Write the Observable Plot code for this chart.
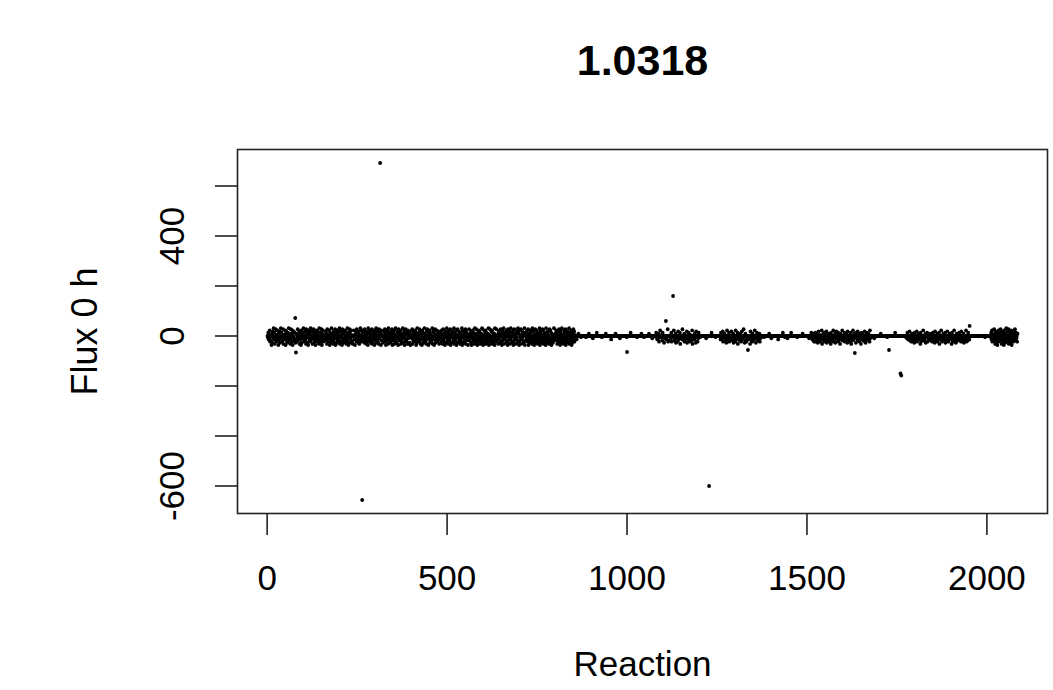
<!DOCTYPE html>
<html>
<head>
<meta charset="utf-8">
<script src="https://cdn.jsdelivr.net/npm/d3@7"></script>
<script src="https://cdn.jsdelivr.net/npm/@observablehq/plot@0.6"></script>
<style>
  html, body { margin: 0; padding: 0; background: #fff; }
  #chart svg { display: block; }
</style>
</head>
<body>
<div id="chart"></div>
<script>
// ---- data ----
const chartTitle = "1.0318";
const xLabel = "Reaction";
const yLabel = "Flux 0 h";

const xTicks = [0, 500, 1000, 1500, 2000];
const xTickLabels = ["0", "500", "1000", "1500", "2000"];
const yTicks = [-600, -400, -200, 0, 200, 400, 600];
const yTickLabels = ["-600", "", "", "0", "", "400", ""];

// Flux per reaction, hand-estimated band values; each row = 80 reactions.
// code: "0" = 0, "1".."9" = +4.5..+40.5, "a".."i" = -4.5..-40.5
const bandRows = [
  "0a3c0b5e1d0h2f4a07c3g0b6e1d5a0h2c4f0b7a3e0d6g1c0a5h2b4e0f3d7a1c0g6b2e5h0a4d3c1f",
  "2e0b6d1a4g0c3h5f0a2b7e0d4c1g6a0f3h5b2d0e7c4a1g0b6f3d0h2a5e1c4b0g7d3f0a6h2c5e1b",
  "0d4a2g6c0e1b5h3f0c7a2d0g4e1b6h0a3f5c2d0b7g4e1a0h6c3f2b5d0a4g1e7c0h3b6f2a5d1e0g",
  "5c1h0a3e6b2d0f4g1a7c0e5h3b2d0f6a4c1g0e3h7b5d2a0f4c6g1e0b3h5a2d7f0c4e1g6b0a3h5d",
  "1f0c4a6e2h0b5d3g7a1c0f4e2b6h0d3a5g1c7e0f2b4h6a0d3c5g1e0b7f2a4h0d6c3e1g5b0a2f4h",
  "0b6g2d4a1e5c0h3f7b2a0d6e4g1c0h5a3f2b7d0e1g4c6a0h3b5f2d1e0a7g4c3h0b6f1d5a2e0c4g",
  "3a0e5c1g6d2b0h4f1a7e3c0g5d2b6h0f1a4e3c7g0d2b5h1f6a0e4c3g2d0b7h5f1a3e0c6g4d2b0h",
  "6d2b0f4h1a5c3e0g7b2d6f0h1a4c5e3g0b2d7f6h0a1c4e5g3b0d2f7h1a6c0e4g5b3d0f2h7a1c6e",
  "0g3c5a1f6e2h0d4b7g1c3a0f5e2h6d0b4g1c7a3f0e5h2d6b1g0c4a3f7e2h5d0b6g1c4a0f3e7h2d",
  "4b0e6h2c1f5a3d0g7b4e1h0c6f2a5d3g0b1e7h4c2f0a6d5g1b3e0h7c2f4a1d0g6b5e3h2c0f1a7d",
  "2c5a0g3e1d6b0h4f2c7a1e0g5d3b6h0f2c4a1e7g0d3b5h2f0c6a4e10000c00002000000a000000",
  "00000a000000020000000000b000000000030000000000000a0000000000200000000000000c0000",
  "0000000200000000000b000000000000000000a0000000000300000000000000000a000000000002",
  "000000a0000000000000200000000b00000000003a0c00b2e0050a000d3a00f00b04c0a06e000d0",
  "0b3e0a0c05d00a2f0b00e4c0a03g00b0c6a00d2e0b00a4f0c030b0e1a00d5g0a00c2b0f40a0e0b3",
  "00a0000000000000000b0000000000000030000000000a0000000000000c3a0b04e00a2d0b0f05c0",
  "a03e0b00c4a0d02f0b00e5a0c03g0b00d2a0e04c00b6a0f02d0e0a03b0c00g4a0d0e2b00c05a0f0b",
  "3a0d0c02e0b000000000a0000000000000200000b000000000000000000c000000000000300000a0",
  "00000b00000000030000000000000000a00000000000000200000000000000000b000003a0c20d0e",
  "0b3e0a2c0f04d0b1e0a05g0c2b0e30a0d4f0b02c0e1a0g3d0b0c5e0a02f0b40d0a3e0c0g2b0a05d0",
  "c0a3e0b02d0f4a0c0e1b03g0a0d5c0b2e00f3a0c4d0b0e2a0g03c0b1d0a4e0f0b3c00a2d0e5b0a00",
  "000000b00000000000000000200000000000000000a000000000000000000000300000000000000",
  "00000000000000a00b30c0a04d0b0e02a0c00f3b0a0d4e0b02c0a0g3e0b0a05d0c0b2f0a03e00b0c",
  "0a2d0b0e03c0a0f4b0d0a2e0c03g0b0a5d0e0b2c00a3f0b0d4a0e0c02b0a0g3d0b0e5c0a0f02b0d0",
  "a03c0b0e4a0d0b2f0c0a05e0b0d3a0c9000000000000000000000000000000000000000000a00000",
  "0000000000a3c5e1b0d6a2g4c0f3h1b5e2d0a6c4g1e3b0h5d2f0a7c1e4b6g0d3a2f5h1c0e4b2a6d",
  "3b0e2"
];

// Isolated points
const outlierReaction = [78, 80, 264, 314, 1000, 1108, 1128, 1228, 1336, 1633, 1728, 1760, 1762];
const outlierFlux     = [72, -66, -656, 692, -64, 60, 160, -600, -56, -68, -56, -150, -158];

// ---- build table ----
const rowLength = 80;
const posCodes = "123456789";
const negCodes = "abcdefghi";
const fluxByReaction = new Map();
bandRows.forEach((row, r) => {
  const s = r < bandRows.length - 1 ? row.padEnd(rowLength, "0") : row;
  for (let i = 0; i < s.length; i++) {
    const ch = s[i];
    let v = 0;
    const p = posCodes.indexOf(ch);
    const n = negCodes.indexOf(ch);
    if (p >= 0) v = (p + 1) * 4.5;
    else if (n >= 0) v = -(n + 1) * 4.5;
    fluxByReaction.set(r * rowLength + i + 1, v);
  }
});
outlierReaction.forEach((r, k) => fluxByReaction.set(r, outlierFlux[k]));
const data = Array.from(fluxByReaction, ([reaction, flux]) => ({reaction, flux}));

// ---- plot ----
const font = "'Liberation Sans', Arial, Helvetica, sans-serif";
const chart = Plot.plot({
  width: 1053,
  height: 690,
  marginLeft: 237,
  marginRight: 6,
  marginTop: 149,
  marginBottom: 177,
  style: {fontFamily: font, background: "#fff", color: "#000"},
  x: {domain: [-82.4, 2168.4]},
  y: {domain: [-710, 746]},
  marks: [
    Plot.frame({stroke: "#222", strokeWidth: 1.6}),
    Plot.dot(data, {x: "reaction", y: "flux", r: 1.9, fill: "#000", stroke: "none"}),
    Plot.axisX(xTicks, {
      tickSize: 22, tickPadding: 30, fontSize: 35, stroke: "#222", strokeWidth: 1.6,
      tickFormat: (d, i) => xTickLabels[i], label: null
    }),
    Plot.axisY(yTicks, {
      tickSize: 22, stroke: "#222", strokeWidth: 1.6,
      tickFormat: () => "", label: null
    }),
    Plot.text(yTicks, {
      y: d => d, text: yTickLabels, frameAnchor: "left", textAnchor: "middle",
      dx: -65, rotate: -90, fontSize: 35, fill: "#000"
    }),
    Plot.text([xLabel], {text: d => d, frameAnchor: "bottom", textAnchor: "middle", dy: 162, fontSize: 35, fill: "#000"}),
    Plot.text([yLabel], {text: d => d, frameAnchor: "left", textAnchor: "middle", dx: -152, rotate: -90, fontSize: 36, fill: "#000"}),
    Plot.text([chartTitle], {text: d => d, frameAnchor: "top", textAnchor: "middle", dy: -105, fontSize: 43, fontWeight: "bold", fill: "#000"})
  ]
});
document.getElementById("chart").appendChild(chart);
</script>
</body>
</html>
